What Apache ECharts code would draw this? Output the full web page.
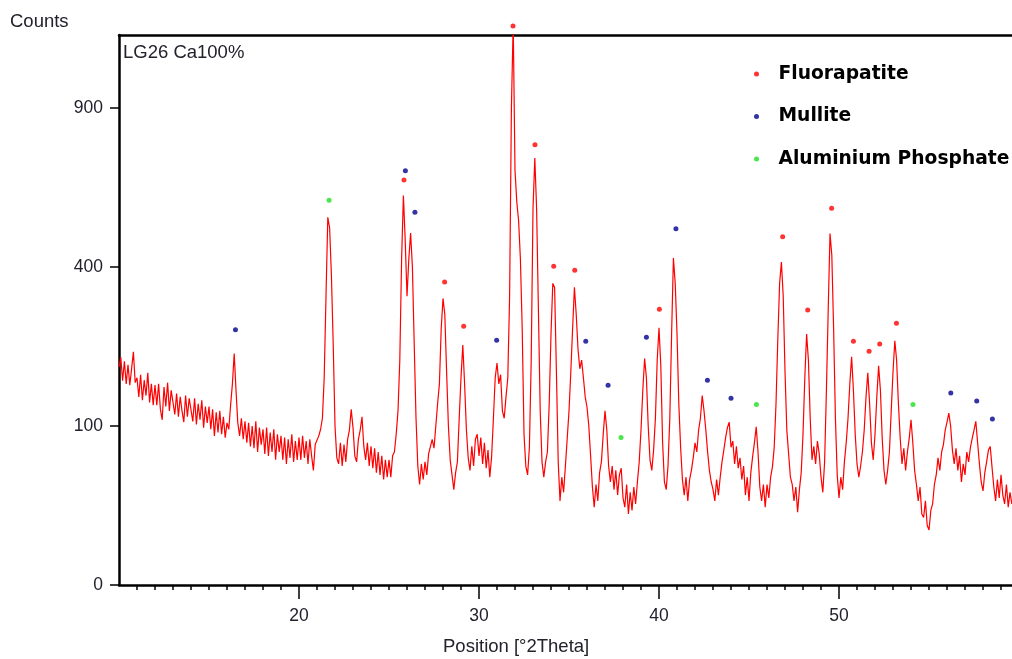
<!DOCTYPE html>
<html>
<head>
<meta charset="utf-8">
<script src="https://cdn.jsdelivr.net/npm/echarts@6/dist/echarts.min.js"></script>
<style>
html,body{margin:0;padding:0;background:#fff;}
#chart{width:1012px;height:659px;}
</style>
</head>
<body>
<div id="chart"></div>
<script>
// Scan: start angle and step (°2Theta)
const twoThetaStart = 10.0;
const twoThetaStep = 0.1;
// Counts, one value per step from 10.0 to 59.6 °2Theta
const counts = [
  188, 205, 165, 198, 160, 192, 158, 185, 215, 162,   // 10
  170, 140, 175, 135, 166, 142, 178, 132, 160, 128,   // 11
  158, 128, 160, 122, 108, 155, 126, 162, 120, 150,   // 12
  148, 115, 145, 112, 140, 120, 105, 142, 112, 138,   // 13
  136, 106, 138, 102, 130, 108, 135, 98, 126, 104,    // 14
  126, 96, 122, 88, 118, 92, 120, 90, 112, 86,        // 15
  104, 96, 128, 160, 212, 150, 104, 88, 110, 84,      // 16
  106, 80, 104, 76, 100, 74, 106, 70, 98, 78,         // 17
  96, 68, 98, 66, 92, 70, 96, 62, 90, 70,             // 18
  88, 62, 86, 58, 84, 64, 90, 60, 82, 62,             // 19
  86, 62, 88, 64, 82, 58, 84, 66, 52, 78,             // 20
  80, 88, 96, 110, 170, 330, 535, 505, 380, 230,      // 21
  100, 64, 58, 80, 56, 78, 60, 84, 95, 122,           // 22
  98, 66, 60, 84, 95, 112, 76, 62, 80, 56,            // 23
  76, 54, 74, 50, 70, 48, 66, 44, 62, 46,             // 24
  62, 46, 66, 70, 90, 120, 200, 420, 600, 470,        // 25
  330, 420, 490, 400, 230, 110, 56, 40, 58, 44,       // 26
  60, 48, 68, 66, 84, 74, 100, 130, 160, 260,         // 27
  325, 290, 180, 100, 62, 48, 36, 50, 60, 110,        // 28
  170, 228, 160, 95, 64, 52, 76, 56, 84, 90,          // 29
  66, 86, 58, 80, 54, 72, 46, 65, 110, 170,           // 30
  195, 160, 175, 120, 110, 140, 170, 330, 900, 1250,  // 31
  680, 580, 525, 420, 260, 90, 56, 48, 75, 200,       // 32
  560, 721, 560, 300, 120, 60, 46, 60, 70, 130,       // 33
  250, 360, 350, 180, 60, 28, 46, 34, 56, 85,         // 34
  120, 180, 260, 351, 290, 220, 185, 200, 170, 140,   // 35
  125, 100, 66, 38, 24, 40, 28, 50, 60, 90,           // 36
  120, 95, 56, 42, 56, 36, 52, 32, 48, 54,            // 37
  30, 24, 40, 20, 34, 22, 38, 26, 42, 60,             // 38
  95, 150, 203, 170, 100, 62, 52, 72, 110, 200,       // 39
  262, 190, 80, 42, 36, 56, 110, 250, 423, 360,       // 40
  250, 130, 75, 44, 32, 46, 28, 44, 52, 64,           // 41
  80, 70, 95, 110, 142, 120, 95, 70, 52, 42,          // 42
  36, 28, 44, 32, 46, 60, 72, 86, 98, 105,            // 43
  75, 82, 58, 76, 54, 64, 44, 56, 32, 46,             // 44
  28, 50, 65, 80, 99, 70, 38, 28, 40, 24,             // 45
  40, 30, 46, 55, 75, 130, 240, 360, 413, 330,        // 46
  180, 95, 68, 46, 40, 28, 38, 21, 36, 50,            // 47
  90, 170, 249, 200, 110, 62, 76, 58, 82, 68,         // 48
  46, 34, 60, 150, 300, 489, 430, 260, 110, 48,       // 49
  30, 46, 36, 60, 80, 110, 160, 206, 150, 90,         // 50
  58, 46, 56, 70, 95, 140, 178, 130, 80, 62,          // 51
  90, 140, 190, 150, 85, 52, 40, 52, 70, 120,         // 52
  180, 236, 200, 130, 85, 58, 74, 52, 70, 85,         // 53
  108, 80, 52, 40, 28, 38, 20, 18, 28, 14,            // 54
  12, 22, 26, 40, 48, 64, 52, 70, 78, 95,             // 55
  105, 117, 100, 72, 58, 74, 52, 66, 42, 58,          // 56
  48, 70, 60, 75, 85, 95, 106, 80, 58, 42,            // 57
  35, 50, 60, 72, 76, 55, 38, 28, 44, 30,             // 58
  48, 32, 26, 40, 24, 34, 26                          // 59
];
// Phase reference markers [°2Theta, counts]
const fluorapatite = [
  [25.83, 649], [28.09, 363], [29.15, 265], [31.89, 1237], [33.11, 767],
  [34.15, 402], [35.32, 392], [40.02, 301], [46.87, 480], [48.26, 299],
  [49.59, 562], [50.80, 235], [51.67, 216], [52.26, 230], [53.19, 271]
];
const mullite = [
  [16.47, 258], [25.91, 679], [26.44, 550], [30.98, 237], [35.93, 235],
  [37.17, 158], [39.30, 243], [40.94, 502], [42.69, 166], [44.00, 138],
  [56.21, 146], [57.65, 134], [58.52, 109]
];
const aluminiumPhosphate = [
  [21.67, 586], [37.89, 86], [45.41, 129], [54.11, 129]
];
const phaseNames = ['Fluorapatite', 'Mullite', 'Aluminium Phosphate'];
const yTickLabels = [0, 100, 400, 900];
const xTickLabels = [20, 30, 40, 50];

const xMin = 10, xMax = 59.61;
const yMaxCounts = 1197;

const sq = v => Math.sqrt(v);
const lineData = counts.map((c, i) => [+(twoThetaStart + i * twoThetaStep).toFixed(2), sq(c)]);
const toPts = arr => arr.map(p => [p[0], sq(p[1])]);
const minorTicks = [];
for (let t = 11; t < xMax; t += 1) { if (t % 10 !== 0) minorTicks.push(t); }
const yTickVals = yTickLabels.map(sq);

const txtFont = 'Liberation Sans, Arial, sans-serif';
const txtColor = '#22222c';

const chart = echarts.init(document.getElementById('chart'), null, {renderer: 'canvas'});
chart.setOption({
  animation: false,
  backgroundColor: '#fff',
  title: [
    {text: 'Counts', left: 10, top: 12, padding: 0,
     textStyle: {fontFamily: txtFont, fontSize: 18.5, fontWeight: 'normal', color: txtColor}},
    {text: 'LG26 Ca100%', left: 123, top: 43, padding: 0,
     textStyle: {fontFamily: txtFont, fontSize: 18.5, fontWeight: 'normal', color: txtColor}},
    {text: 'Position [°2Theta]', left: 443, top: 637, padding: 0,
     textStyle: {fontFamily: txtFont, fontSize: 18.5, fontWeight: 'normal', color: txtColor}}
  ],
  legend: {
    orient: 'vertical', left: 754, top: 64, padding: 0,
    itemWidth: 34, itemHeight: 5, itemGap: 22.5, icon: 'circle',
    selectedMode: false,
    data: phaseNames,
    textStyle: {fontFamily: 'DejaVu Sans', fontWeight: 'bold', fontSize: 18.7, color: '#000', lineHeight: 20}
  },
  grid: {left: 119, right: 0, top: 35, bottom: 74, containLabel: false},
  xAxis: [
    {type: 'value', min: xMin, max: xMax, position: 'bottom', interval: 10,
     axisLine: {show: true, lineStyle: {color: '#000', width: 2.5}},
     axisTick: {show: true, length: 14, customValues: xTickLabels, lineStyle: {color: '#000', width: 1.5}},
     axisLabel: {customValues: xTickLabels, margin: 22, fontSize: 17.5, fontFamily: txtFont, color: txtColor},
     splitLine: {show: false}},
    {type: 'value', min: xMin, max: xMax, position: 'bottom', interval: 1,
     axisLine: {show: false},
     axisTick: {show: true, length: 5, customValues: minorTicks, lineStyle: {color: '#000', width: 1.5}},
     axisLabel: {show: false}, splitLine: {show: false}},
    {type: 'value', min: xMin, max: xMax, position: 'top', interval: 10,
     axisLine: {show: true, lineStyle: {color: '#000', width: 2.5}},
     axisTick: {show: false}, axisLabel: {show: false}, splitLine: {show: false}}
  ],
  yAxis: {
    type: 'value', min: 0, max: sq(yMaxCounts), interval: 10, position: 'left',
    axisLine: {show: true, lineStyle: {color: '#000', width: 2.5}},
    axisTick: {show: true, length: 9, customValues: yTickVals, lineStyle: {color: '#000', width: 1.5}},
    axisLabel: {customValues: yTickVals, margin: 16, fontSize: 17.5, fontFamily: txtFont, color: txtColor,
      formatter: v => String(Math.round(v * v))},
    splitLine: {show: false}
  },
  series: [
    {type: 'line', name: 'LG26 Ca100%', data: lineData, xAxisIndex: 0, yAxisIndex: 0,
     showSymbol: false, symbol: 'none', sampling: null, silent: true, z: 2,
     lineStyle: {color: '#ff0000', width: 1.2}},
    {type: 'scatter', name: phaseNames[0], data: toPts(fluorapatite), symbol: 'circle', symbolSize: 5,
     clip: false, z: 5, itemStyle: {color: '#ff0000'}},
    {type: 'scatter', name: phaseNames[1], data: toPts(mullite), symbol: 'circle', symbolSize: 5,
     clip: false, z: 5, itemStyle: {color: '#00008f'}},
    {type: 'scatter', name: phaseNames[2], data: toPts(aluminiumPhosphate), symbol: 'circle', symbolSize: 5,
     clip: false, z: 5, itemStyle: {color: '#1ee01e'}}
  ]
});
</script>
</body>
</html>
